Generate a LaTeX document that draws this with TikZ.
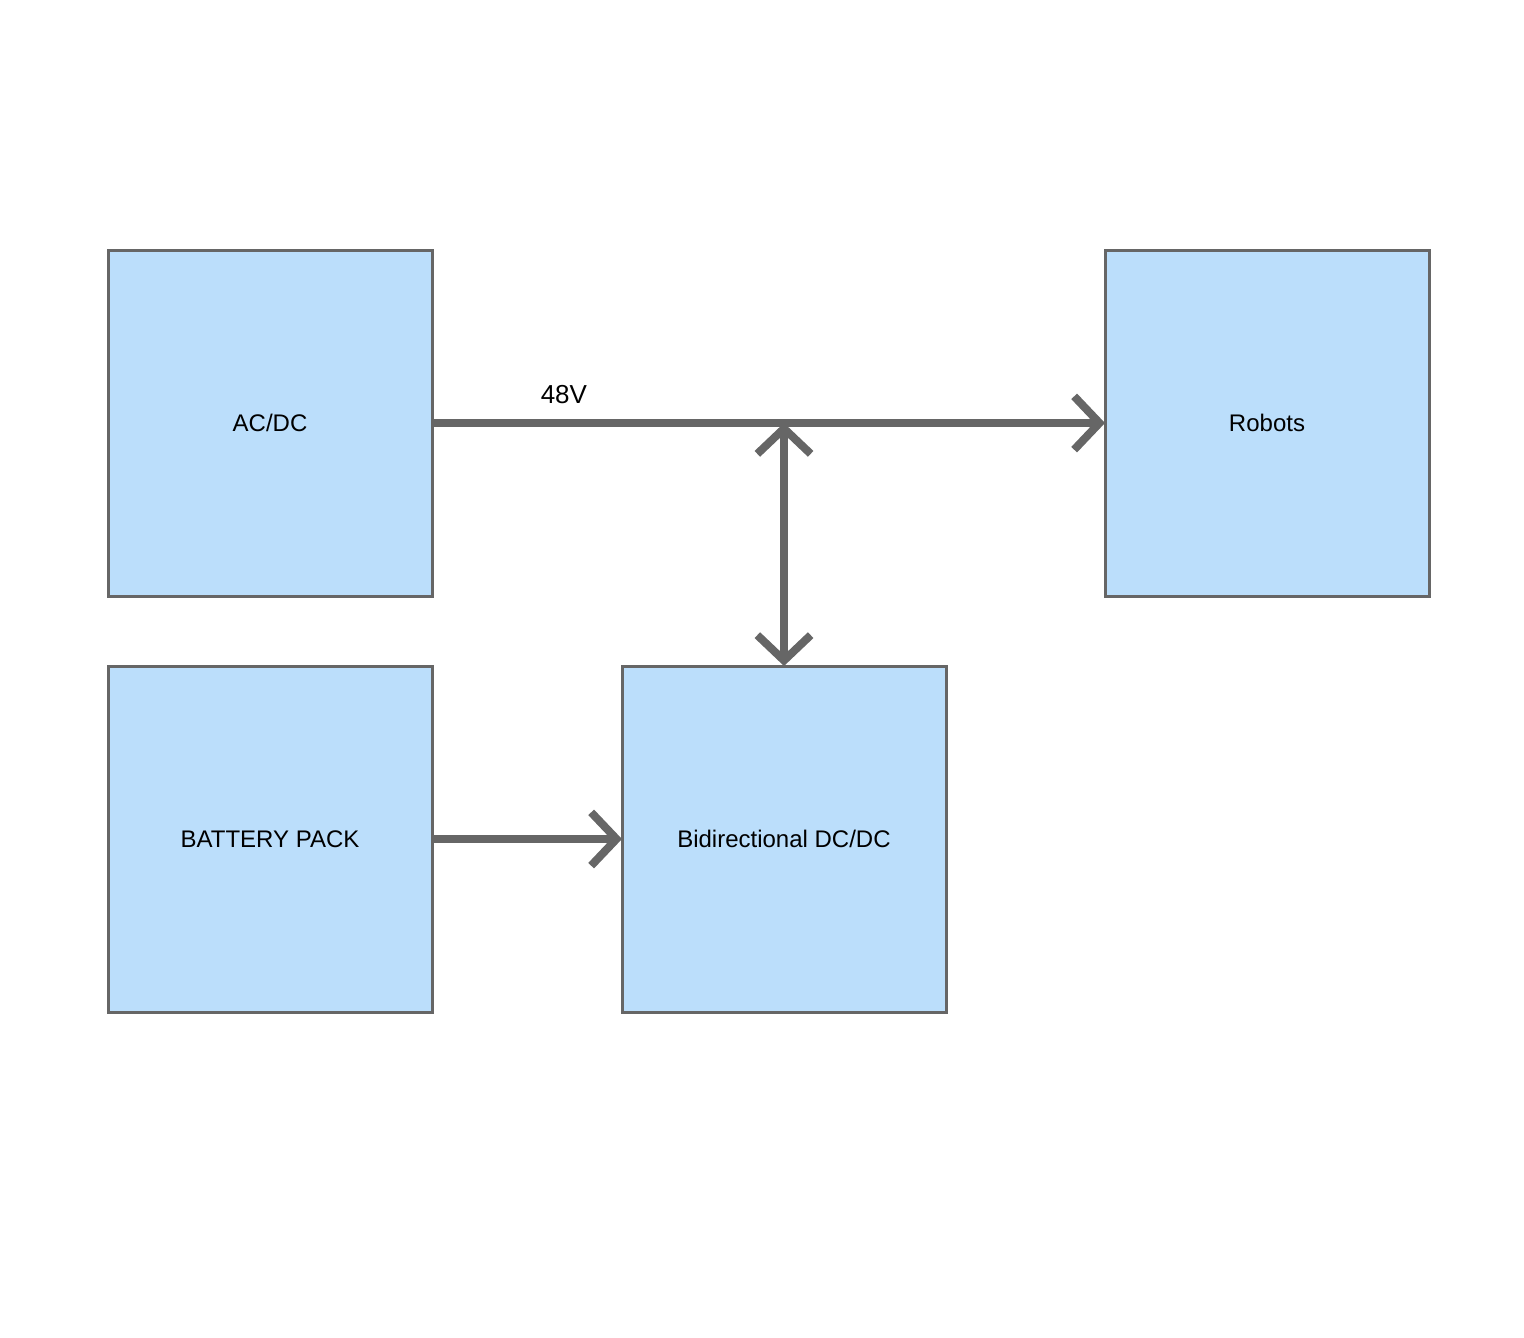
\documentclass[tikz,border=0pt]{standalone}
\usepackage{fontspec}
\setmainfont{Liberation Sans}
\usetikzlibrary{positioning,arrows.meta}
\definecolor{boxblue}{HTML}{BBDEFB}
\definecolor{linegray}{HTML}{666666}

\begin{document}
\begin{tikzpicture}[
  font=\fontsize{18}{22}\selectfont,
  node distance=52.5pt and 504.75pt,
  box/.style={draw=linegray, fill=boxblue, line width=2.25pt, minimum width=243pt, minimum height=259.5pt, outer sep=0pt, align=center},
  arr/.style={draw=linegray, line width=6pt, -{Straight Barb[length=19pt, width=40pt]}}]
\useasboundingbox (0,0) rectangle (1143pt,-1003.5pt);
\node[box] (acdc) at (202.5pt,-317.25pt) {AC/DC};
\node[box, right=of acdc] (robots) {Robots};
\node[box, below=of acdc] (battery) {BATTERY PACK};
\node[box, right=142.5pt of battery] (dcdc) {Bidirectional DC/DC};
\coordinate (bus) at (dcdc.north |- acdc.east);
\draw[arr] (acdc) -- node[pos=0.196, above=8pt, font=\fontsize{19.5}{23}\selectfont] (volt) {48V} (robots);
\draw[arr, {Straight Barb[length=19pt, width=40pt]}-{Straight Barb[length=19pt, width=40pt]}] (bus) -- (dcdc);
\draw[arr] (battery) -- (dcdc);
\end{tikzpicture}
\end{document}
